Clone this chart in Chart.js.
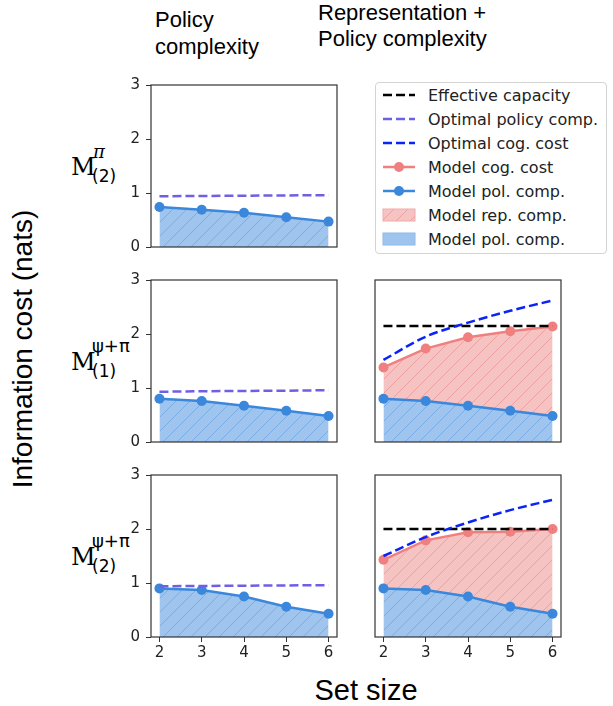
<!DOCTYPE html>
<html>
<head>
<meta charset="utf-8">
<script src="https://cdn.jsdelivr.net/npm/chart.js@4"></script>
<style>
  body { margin: 0; background: #fff; }
  #fig { position: relative; width: 613px; height: 706px; overflow: hidden; }
  canvas { position: absolute; }
  .t { position: absolute; line-height: 0; white-space: nowrap; color: #000; }
  .sans { font-family: "Liberation Sans", Arial, sans-serif; }
  .dv { font-family: "DejaVu Sans", sans-serif; }
  .serif { font-family: "DejaVu Serif", serif; }
  #legend { position: absolute; left: 375px; top: 82px; width: 230px; height: 170px;
            border: 1px solid #d4d4d4; border-radius: 4px; }
  .lrow { position: absolute; left: 0; }
  .lrow svg { position: absolute; left: 6px; top: -8px; }
  .lrow span { position: absolute; left: 52px; top: 0; line-height: 0; white-space: nowrap;
               font-family: "DejaVu Sans", sans-serif; font-size: 16px; color: #222; }
</style>
</head>
<body>
<div id="fig">
  <div class="t sans" style="left:155px;top:20px;font-size:22px">Policy</div>
  <div class="t sans" style="left:155px;top:47px;font-size:22px">complexity</div>
  <div class="t sans" style="left:318px;top:13px;font-size:22px">Representation +</div>
  <div class="t sans" style="left:318px;top:39px;font-size:22px">Policy complexity</div>

  <div class="t sans" style="left:23px;top:349px;font-size:28px;transform:translate(-50%,0) rotate(-90deg);transform-origin:50% 0;">Information cost (nats)</div>
  <div class="t sans" style="left:366px;top:690px;font-size:29px;transform:translateX(-50%)">Set size</div>

  <!-- row labels -->
  <div class="t serif" style="left:71px;top:167px;font-size:24px">M</div>
  <div class="t serif" style="left:93px;top:152px;font-size:18px;font-style:italic">π</div>
  <div class="t dv" style="left:92px;top:176px;font-size:17px">(2)</div>

  <div class="t serif" style="left:71px;top:362px;font-size:24px">M</div>
  <div class="t dv" style="left:92px;top:346px;font-size:18px">ψ+π</div>
  <div class="t dv" style="left:92px;top:371px;font-size:17px">(1)</div>

  <div class="t serif" style="left:71px;top:557px;font-size:24px">M</div>
  <div class="t dv" style="left:92px;top:541px;font-size:18px">ψ+π</div>
  <div class="t dv" style="left:92px;top:566px;font-size:17px">(2)</div>

  <div id="legend"></div>

  <canvas id="p11"></canvas>
  <canvas id="p21"></canvas>
  <canvas id="p22"></canvas>
  <canvas id="p31"></canvas>
  <canvas id="p32"></canvas>
</div>

<script>
// set sizes and ticks
const setSizes = [2, 3, 4, 5, 6];
const yTicks = [0, 1, 2, 3];

// row 1: M(2)^pi
const optPolicyRow1 = [0.94, 0.945, 0.95, 0.955, 0.96];
const modelPolRow1 = [0.74, 0.69, 0.635, 0.55, 0.47];

// row 2: M(1)^psi+pi
const optPolicyRow2 = [0.93, 0.94, 0.945, 0.95, 0.96];
const modelPolRow2 = [0.80, 0.76, 0.67, 0.58, 0.48];
const capacityRow2 = [2.15, 2.15, 2.15, 2.15, 2.15];
const optCogRow2 = [1.52, 1.95, 2.21, 2.43, 2.62];
const modelCogRow2 = [1.38, 1.73, 1.94, 2.05, 2.14];

// row 3: M(2)^psi+pi
const optPolicyRow3 = [0.94, 0.945, 0.95, 0.955, 0.96];
const modelPolRow3 = [0.90, 0.87, 0.75, 0.56, 0.43];
const capacityRow3 = [2.0, 2.0, 2.0, 2.0, 2.0];
const optCogRow3 = [1.50, 1.85, 2.12, 2.35, 2.54];
const modelCogRow3 = [1.43, 1.79, 1.94, 1.95, 2.0];

const legendLabels = ["Effective capacity", "Optimal policy comp.", "Optimal cog. cost",
  "Model cog. cost", "Model pol. comp.", "Model rep. comp.", "Model pol. comp."];

const BLUE = '#3a87dc';
const RED = '#f08080';
const PURPLE = '#6f5fe3';
const DASHBLUE = '#0a24f5';

function hatch(bg, fg) {
    const s = 14;
    const c = document.createElement('canvas');
    c.width = s; c.height = s;
    const g = c.getContext('2d');
    g.fillStyle = bg;
    g.fillRect(0, 0, s, s);
    g.strokeStyle = fg;
    g.lineWidth = 1;
    g.beginPath();
    g.moveTo(0, s); g.lineTo(s, 0);
    g.moveTo(-2, 2); g.lineTo(2, -2);
    g.moveTo(s - 2, s + 2); g.lineTo(s + 2, s - 2);
    g.stroke();
    return g.createPattern(c, 'repeat');
}

const bluePattern = hatch('#9fc5ee', '#78ade8');
const redPattern = hatch('#f6c3c3', '#ee9f9f');

const pts = vals => setSizes.map((s, i) => ({ x: s, y: vals[i] }));

const boxPlugin = {
    id: 'box',
    afterDatasetsDraw(chart) {
        const a = chart.chartArea, ctx = chart.ctx;
        ctx.save();
        ctx.strokeStyle = '#333';
        ctx.lineWidth = 1.2;
        ctx.strokeRect(a.left, a.top, a.right - a.left, a.bottom - a.top);
        ctx.restore();
    }
};

function dashed(vals, color, smooth) {
    return { data: pts(vals), borderColor: color, borderWidth: 2.5, borderDash: [9, 4],
             pointRadius: 0, fill: false, tension: smooth ? 0.4 : 0,
             cubicInterpolationMode: smooth ? 'monotone' : 'default' };
}

function model(vals, color, pattern, fill) {
    return { data: pts(vals), borderColor: color, borderWidth: 2.5, backgroundColor: pattern,
             pointRadius: 5, pointBackgroundColor: color, pointBorderWidth: 0,
             fill: fill, tension: 0 };
}

function panel(id, plotLeft, plotTop, showY, showX, datasets) {
    const yW = showY ? 40 : 0;
    const padL = showY ? 0 : 8;
    const c = document.getElementById(id);
    c.width = yW + padL + 186 + 8;
    c.height = 10 + 162 + (showX ? 30 : 10);
    c.style.left = (plotLeft - yW - padL) + 'px';
    c.style.top = (plotTop - 10) + 'px';

    const tickGrid = { display: true, drawOnChartArea: false, drawTicks: true, tickLength: 5, color: '#333', lineWidth: 1 };
    const tickFont = { family: 'DejaVu Sans', size: 15 };

    new Chart(c, {
        type: 'line',
        data: { datasets: datasets },
        options: {
            responsive: false,
            animation: false,
            clip: false,
            layout: { padding: { top: 10, right: 8, bottom: showX ? 0 : 10, left: padL } },
            plugins: { legend: { display: false }, tooltip: { enabled: false } },
            scales: {
                x: {
                    type: 'linear', min: 1.8, max: 6.2, display: showX,
                    afterBuildTicks: s => { s.ticks = setSizes.map(v => ({ value: v })); },
                    afterFit: s => {
                        if (showX) s.height = 30;
                        s.paddingLeft = 0; s.paddingRight = 0;
                    },
                    grid: tickGrid, border: { display: false },
                    ticks: { font: tickFont, color: '#222', padding: 2 }
                },
                y: {
                    type: 'linear', min: 0, max: 3, display: showY,
                    afterBuildTicks: s => { s.ticks = yTicks.map(v => ({ value: v })); },
                    afterFit: s => {
                        if (showY) s.width = 40;
                        s.paddingTop = 0; s.paddingBottom = 0;
                    },
                    grid: tickGrid, border: { display: false },
                    ticks: { font: tickFont, color: '#222', padding: 6 }
                }
            }
        },
        plugins: [boxPlugin]
    });
}

const L = 151, R = 375;
const rows = [85, 280, 475];

panel('p11', L, rows[0], true, false, [
    dashed(optPolicyRow1, PURPLE, false),
    model(modelPolRow1, BLUE, bluePattern, 'origin')
]);
panel('p21', L, rows[1], true, false, [
    dashed(optPolicyRow2, PURPLE, false),
    model(modelPolRow2, BLUE, bluePattern, 'origin')
]);
panel('p22', R, rows[1], false, false, [
    dashed(optCogRow2, DASHBLUE, true),
    dashed(capacityRow2, '#000', false),
    model(modelPolRow2, BLUE, bluePattern, 'origin'),
    model(modelCogRow2, RED, redPattern, 2)
]);
panel('p31', L, rows[2], true, true, [
    dashed(optPolicyRow3, PURPLE, false),
    model(modelPolRow3, BLUE, bluePattern, 'origin')
]);
panel('p32', R, rows[2], false, true, [
    dashed(optCogRow3, DASHBLUE, true),
    dashed(capacityRow3, '#000', false),
    model(modelPolRow3, BLUE, bluePattern, 'origin'),
    model(modelCogRow3, RED, redPattern, 2)
]);

// legend
const handles = [
    '<line x1="1" y1="8" x2="33" y2="8" stroke="#000" stroke-width="2.5" stroke-dasharray="9 4"/>',
    '<line x1="1" y1="8" x2="33" y2="8" stroke="' + PURPLE + '" stroke-width="2.5" stroke-dasharray="9 4"/>',
    '<line x1="1" y1="8" x2="33" y2="8" stroke="' + DASHBLUE + '" stroke-width="2.5" stroke-dasharray="9 4"/>',
    '<line x1="1" y1="8" x2="33" y2="8" stroke="' + RED + '" stroke-width="2.5"/><circle cx="17" cy="8" r="5" fill="' + RED + '"/>',
    '<line x1="1" y1="8" x2="33" y2="8" stroke="' + BLUE + '" stroke-width="2.5"/><circle cx="17" cy="8" r="5" fill="' + BLUE + '"/>',
    '<defs><pattern id="hp" width="14" height="14" patternUnits="userSpaceOnUse"><rect width="14" height="14" fill="#f6c3c3"/><path d="M0 14 L14 0" stroke="#ee9f9f"/></pattern></defs><rect x="1" y="2" width="32" height="12" fill="url(#hp)" stroke="#f1a9a9"/>',
    '<rect x="1" y="2" width="32" height="12" fill="#9fc5ee" stroke="#8bbaec"/>'
];
const legend = document.getElementById('legend');
legendLabels.forEach((label, i) => {
    const row = document.createElement('div');
    row.className = 'lrow';
    row.style.top = (12 + 24 * i) + 'px';
    row.innerHTML = '<svg width="34" height="16">' + handles[i] + '</svg><span style="top:1px">' + label + '</span>';
    legend.appendChild(row);
});
</script>
</body>
</html>
